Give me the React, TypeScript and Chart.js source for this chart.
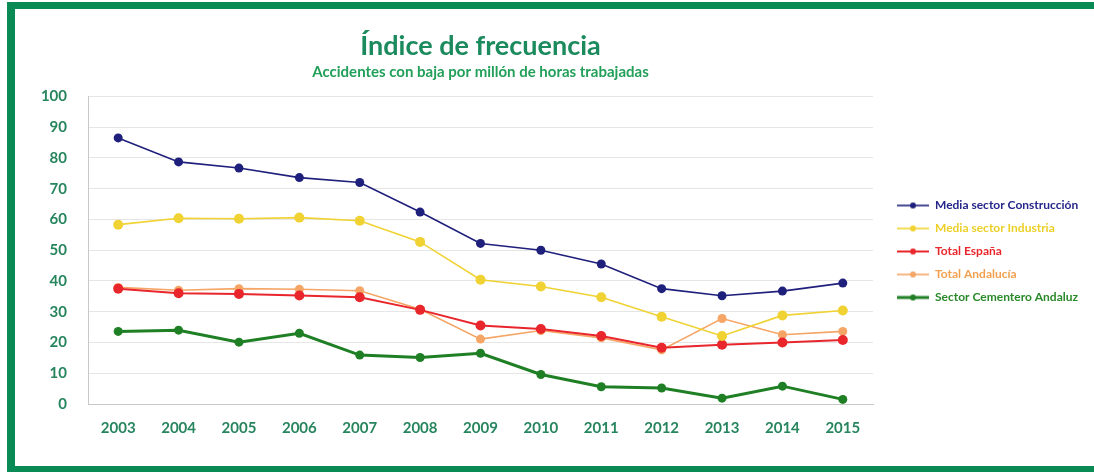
import React, { useEffect, useRef } from "react";
import { Chart, registerables } from "chart.js";

Chart.register(...registerables);

const years = ["2003", "2004", "2005", "2006", "2007", "2008", "2009", "2010", "2011", "2012", "2013", "2014", "2015"];
const construccion = [86.5, 78.7, 76.7, 73.6, 72.0, 62.4, 52.2, 50.0, 45.5, 37.5, 35.2, 36.7, 39.3];
const industria = [58.3, 60.4, 60.2, 60.6, 59.6, 52.7, 40.4, 38.2, 34.7, 28.4, 22.1, 28.8, 30.4];
const espana = [37.5, 36.0, 35.8, 35.3, 34.7, 30.6, 25.5, 24.4, 22.1, 18.3, 19.3, 20.0, 20.8];
const andalucia = [37.9, 37.0, 37.5, 37.3, 36.8, 30.8, 21.1, 23.9, 21.5, 17.6, 27.8, 22.5, 23.6];
const cementero = [23.6, 24.0, 20.1, 23.0, 15.9, 15.1, 16.5, 9.6, 5.6, 5.2, 1.9, 5.8, 1.5];
const yTicks = [0, 10, 20, 30, 40, 50, 60, 70, 80, 90, 100];

const titleText = "Índice de frecuencia";
const subtitleText = "Accidentes con baja por millón de horas trabajadas";

const seriesLabels = [
  "Media sector Construcción",
  "Media sector Industria",
  "Total España",
  "Total Andalucía",
  "Sector Cementero Andaluz",
];
const seriesColors = ["#1f1f7c", "#f0d232", "#e8262c", "#f5a565", "#1f7f24"];
const labelColors = ["#25258a", "#ecd028", "#e8262c", "#f2a050", "#2a8a2a"];
const lineWidths = [1.6, 1.6, 2, 1.6, 3];
const pointRadii = [4.5, 5, 5, 4.5, 4.5];

const FONT = "Lato";
const LEGEND_FONT_SIZE = 12;
const LEGEND_PAD = 11;
const MARK_W = 45;

function legendMark(color: string, width: number): HTMLCanvasElement {
  const c = document.createElement("canvas");
  c.width = MARK_W;
  c.height = 12;
  const ctx = c.getContext("2d")!;
  ctx.strokeStyle = color;
  ctx.lineWidth = width;
  ctx.beginPath();
  ctx.moveTo(13, 6);
  ctx.lineTo(MARK_W, 6);
  ctx.stroke();
  ctx.fillStyle = color;
  ctx.beginPath();
  ctx.arc(29, 6, 3, 0, Math.PI * 2);
  ctx.fill();
  return c;
}

export default function App() {
  const ref = useRef<HTMLCanvasElement | null>(null);

  useEffect(() => {
    const canvas = ref.current;
    if (!canvas) return;

    const m = document.createElement("canvas").getContext("2d")!;
    m.font = `bold ${LEGEND_FONT_SIZE}px ${FONT}`;
    const textW = Math.max(...seriesLabels.map((s) => m.measureText(s).width));
    const legendW = LEGEND_PAD + MARK_W + LEGEND_FONT_SIZE / 2 + textW + 10;
    const canvasW = 1079;
    const chartRight = 858;
    const padRight = Math.max(0, canvasW - chartRight - legendW);

    const marks = seriesColors.map((c, i) => legendMark(c, lineWidths[i]));
    const series = [construccion, industria, espana, andalucia, cementero];

    const chart = new Chart(canvas, {
      type: "line",
      data: {
        labels: years,
        datasets: series.map((d, i) => ({
          label: seriesLabels[i],
          data: d,
          borderColor: seriesColors[i],
          backgroundColor: seriesColors[i],
          pointBackgroundColor: seriesColors[i],
          pointBorderColor: seriesColors[i],
          borderWidth: lineWidths[i],
          pointRadius: pointRadii[i],
          pointBorderWidth: 0,
          tension: 0,
          fill: false,
        })),
      },
      options: {
        animation: false,
        responsive: false,
        maintainAspectRatio: false,
        layout: { padding: { top: 10, right: padRight, bottom: 0, left: 0 } },
        plugins: {
          title: {
            display: true,
            text: titleText,
            color: "#1b8a5c",
            font: { family: FONT, size: 27, weight: "bold", lineHeight: 1.2 },
            padding: { top: 11, bottom: 1 },
            fullSize: false,
          },
          subtitle: {
            display: true,
            text: subtitleText,
            color: "#22a05a",
            font: { family: FONT, size: 15, weight: "bold", lineHeight: 1.0 },
            padding: { top: 1.5, bottom: 16.5 },
            fullSize: false,
          },
          legend: {
            display: true,
            position: "right",
            align: "center",
            title: { display: true, text: " ", font: { size: 10, lineHeight: 1.2 }, padding: { top: 3, bottom: 3 } },
            labels: {
              usePointStyle: true,
              pointStyleWidth: MARK_W,
              padding: LEGEND_PAD,
              font: { family: FONT, size: LEGEND_FONT_SIZE, weight: "bold" },
              generateLabels: (ch: any) => {
                const items = Chart.defaults.plugins.legend.labels.generateLabels(ch);
                return items.map((it: any, i: number) => ({
                  ...it,
                  pointStyle: marks[i],
                  fontColor: labelColors[i],
                  lineWidth: 0,
                }));
              },
            },
          },
          tooltip: { enabled: false },
        },
        scales: {
          x: {
            offset: true,
            grid: { display: false, drawTicks: false },
            border: { display: true, color: "#c8c8c8", width: 1 },
            ticks: {
              color: "#27855d",
              font: { family: FONT, size: 15, weight: "bold" },
              padding: 15,
              maxRotation: 0,
            },
            afterFit: (s: any) => {
              s.height = 62;
            },
          },
          y: {
            min: 0,
            max: 100,
            afterBuildTicks: (s: any) => {
              s.ticks = yTicks.map((v) => ({ value: v }));
            },
            grid: { color: "#e6e6e6", lineWidth: 1, drawTicks: false },
            border: { display: true, color: "#c8c8c8", width: 1 },
            ticks: {
              color: "#27855d",
              font: { family: FONT, size: 15, weight: "bold" },
              padding: 21,
            },
            afterFit: (s: any) => {
              s.width = 73;
            },
          },
        },
      },
    });
    return () => chart.destroy();
  }, []);

  return (
    <div style={{ position: "fixed", left: 0, top: 0, width: 1094, height: 472, background: "#ffffff", overflow: "hidden" }}>
      <div
        style={{
          position: "absolute",
          left: 7,
          top: 2,
          width: 1100,
          height: 470,
          boxSizing: "border-box",
          borderTop: "7px solid #0a8a55",
          borderLeft: "8px solid #0a8a55",
          borderBottom: "6px solid #0a8a55",
        }}
      />
      <canvas ref={ref} width={1079} height={457} style={{ position: "absolute", left: 15, top: 9, width: 1079, height: 457 }} />
    </div>
  );
}
